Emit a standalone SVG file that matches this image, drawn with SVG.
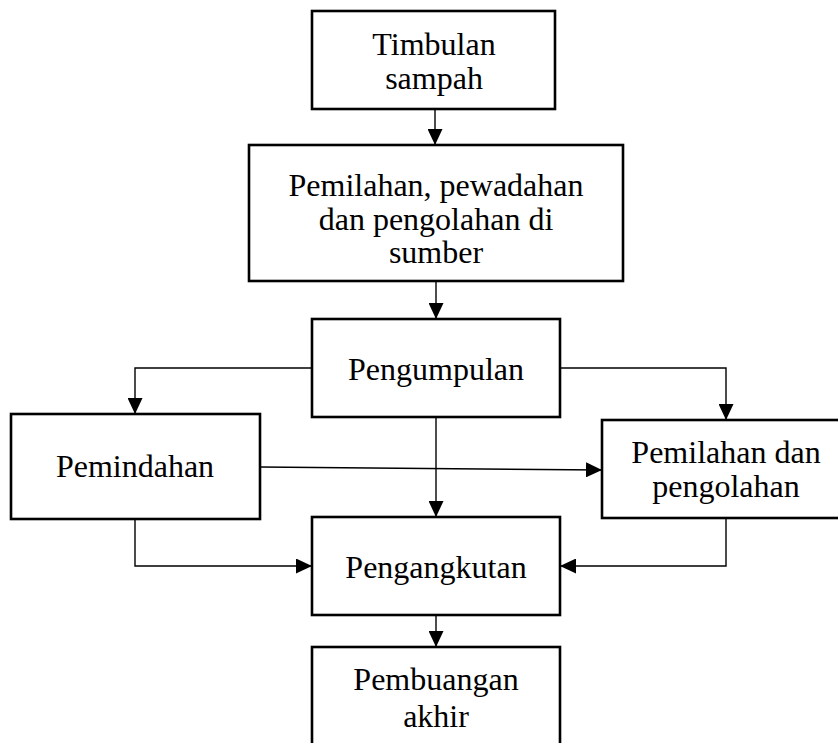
<svg xmlns="http://www.w3.org/2000/svg" width="838" height="743" viewBox="0 0 838 743">
<defs>
<style>
.box{fill:#fff;stroke:#000;stroke-width:2.6}
.lbl{font-family:"Liberation Serif","Times New Roman",serif;font-size:32px;fill:#000;text-anchor:middle}
.con{fill:none;stroke:#000;stroke-width:1.4;marker-end:url(#ah)}
</style>
<marker id="ah" markerUnits="userSpaceOnUse" markerWidth="16" markerHeight="15" refX="16" refY="7.5" orient="auto">
<path d="M0,0 L16,7.5 L0,15 Z" fill="#000"/>
</marker>
</defs>
<g id="connectors">
<path class="con" d="M435,109 V145"/>
<path class="con" d="M436,281 V319"/>
<path class="con" d="M312,368 H135 V414"/>
<path class="con" d="M560,368 H726 V420"/>
<path class="con" d="M260,467 L602,470"/>
<path class="con" d="M436,417 V517"/>
<path class="con" d="M135,519 V566 H312"/>
<path class="con" d="M726,518 V566 H560"/>
<path class="con" d="M436,615 V647"/>
</g>
<g id="n1"><rect class="box" x="312" y="11" width="243" height="98"/>
<text class="lbl" x="434" y="55">Timbulan</text><text class="lbl" x="434" y="89">sampah</text></g>
<g id="n2"><rect class="box" x="249" y="145" width="374" height="136"/>
<text class="lbl" x="436" y="196">Pemilahan, pewadahan</text><text class="lbl" x="436" y="230">dan pengolahan di</text><text class="lbl" x="436" y="263">sumber</text></g>
<g id="n3"><rect class="box" x="312" y="319" width="248" height="98"/>
<text class="lbl" x="436" y="380">Pengumpulan</text></g>
<g id="n4"><rect class="box" x="11" y="414" width="249" height="105"/>
<text class="lbl" x="135" y="477">Pemindahan</text></g>
<g id="n5"><rect class="box" x="602" y="420" width="250" height="98"/>
<text class="lbl" x="726" y="463">Pemilahan dan</text><text class="lbl" x="726" y="497">pengolahan</text></g>
<g id="n6"><rect class="box" x="312" y="517" width="248" height="98"/>
<text class="lbl" x="436" y="578">Pengangkutan</text></g>
<g id="n7"><rect class="box" x="312" y="647" width="248" height="120"/>
<text class="lbl" x="436" y="690">Pembuangan</text><text class="lbl" x="436" y="727">akhir</text></g>
</svg>
